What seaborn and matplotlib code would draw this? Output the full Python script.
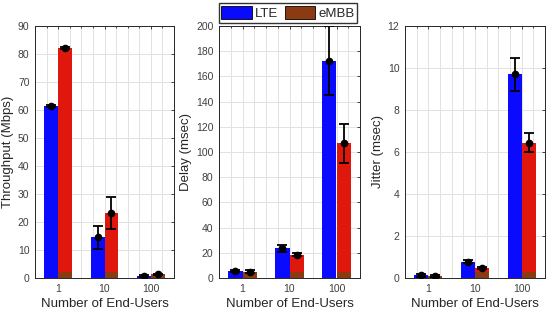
"""LTE vs eMBB: throughput, delay and jitter against number of end-users."""

import matplotlib
matplotlib.use("Agg")
import matplotlib.pyplot as plt
import numpy as np
import pandas as pd
import seaborn as sns
from matplotlib.patches import Patch
from matplotlib.ticker import MultipleLocator

users = ["1", "10", "100"]
techs = ["LTE", "eMBB"]

throughput_lte = [61.5, 14.5, 0.8]
throughput_lte_err = [0.3, 4.2, 0.3]
throughput_embb = [82.2, 23.3, 1.3]
throughput_embb_err = [0.3, 5.7, 0.3]

delay_lte = [5.5, 23.5, 172.5]
delay_lte_err = [1.0, 2.5, 27.5]
delay_embb = [5.0, 18.5, 107.0]
delay_embb_err = [1.0, 1.0, 15.5]

jitter_lte = [0.12, 0.78, 9.7]
jitter_lte_err = [0.05, 0.08, 0.8]
jitter_embb = [0.08, 0.48, 6.45]
jitter_embb_err = [0.04, 0.05, 0.46]

panels = [
    ("Throughput (Mbps)", 90, 10, throughput_lte, throughput_lte_err,
     throughput_embb, throughput_embb_err),
    ("Delay (msec)", 200, 20, delay_lte, delay_lte_err,
     delay_embb, delay_embb_err),
    ("Jitter (msec)", 12, 2, jitter_lte, jitter_lte_err,
     jitter_embb, jitter_embb_err),
]

BLUE = "#0a0aff"
RED = "#e0170c"
BROWN = "#8c3a12"
W, H = 550, 313
boxes = [(35, 174), (219, 360), (405, 545)]
top_px, bottom_px = 26, 278

sns.set_theme(style="white")
plt.rcParams["font.family"] = ["Liberation Sans", "DejaVu Sans"]

fig = plt.figure(figsize=(5.5, 3.13), dpi=100)

for (label, ymax, ystep, lte, lte_err, embb, embb_err), (x0, x1) in zip(panels, boxes):
    ax = fig.add_axes([x0 / W, (H - bottom_px) / H, (x1 - x0) / W,
                       (bottom_px - top_px) / H])
    df = pd.DataFrame({
        "users": users * 2,
        "tech": [techs[0]] * 3 + [techs[1]] * 3,
        "value": lte + embb,
    })
    sns.barplot(data=df, x="users", y="value", hue="tech", width=0.6,
                palette=[BLUE, RED], ax=ax, legend=False, errorbar=None,
                saturation=1, zorder=2, linewidth=0)

    # darker band at the foot of the eMBB bars
    band = 0.025 * ymax
    xs = np.arange(len(users))
    half = 0.3 / 2
    ax.bar(xs + half, np.minimum(embb, band), width=0.3, color=BROWN,
           zorder=3, linewidth=0)

    for off, vals, errs in [(-half, lte, lte_err), (half, embb, embb_err)]:
        ax.errorbar(xs + off, vals, yerr=errs, fmt="o", color="black",
                    ms=4.5, capsize=3.5, elinewidth=1.3, capthick=1.3, zorder=5)

    ax.set_xlim(-0.5, 2.5)
    ax.set_ylim(0, ymax)
    ax.yaxis.set_major_locator(MultipleLocator(ystep))
    ax.xaxis.set_minor_locator(MultipleLocator(0.25))
    ax.grid(True, which="major", color="#e2e2e2", lw=0.7, zorder=0)
    ax.grid(True, which="minor", axis="x", color="#e2e2e2", lw=0.7, zorder=0)
    ax.set_axisbelow(True)
    ax.tick_params(axis="both", which="both", direction="in", top=True,
                   right=True, length=2.5, width=0.6, colors="#262626",
                   labelcolor="#404040", labelsize=7.5, pad=4)
    ax.tick_params(axis="x", which="minor", length=1.5)
    for s in ax.spines.values():
        s.set_color("#262626")
        s.set_linewidth(0.7)
    ax.set_xlabel("Number of End-Users", fontsize=9.5, color="#262626",
                  labelpad=3)
    ax.set_ylabel(label, fontsize=9.5, color="#262626", labelpad=3)

handles = [Patch(facecolor=BLUE, edgecolor="black", lw=0.6),
           Patch(facecolor=BROWN, edgecolor="black", lw=0.6)]
fig.legend(handles, techs, loc="center", bbox_to_anchor=(288 / W, 1 - 13 / H),
           ncol=2, frameon=True, fontsize=9.5, handlelength=2.3,
           handleheight=1.1, columnspacing=0.5, handletextpad=0.25,
           borderpad=0.2, borderaxespad=0, fancybox=False,
           edgecolor="black")

fig.savefig("out.png", dpi=100)
